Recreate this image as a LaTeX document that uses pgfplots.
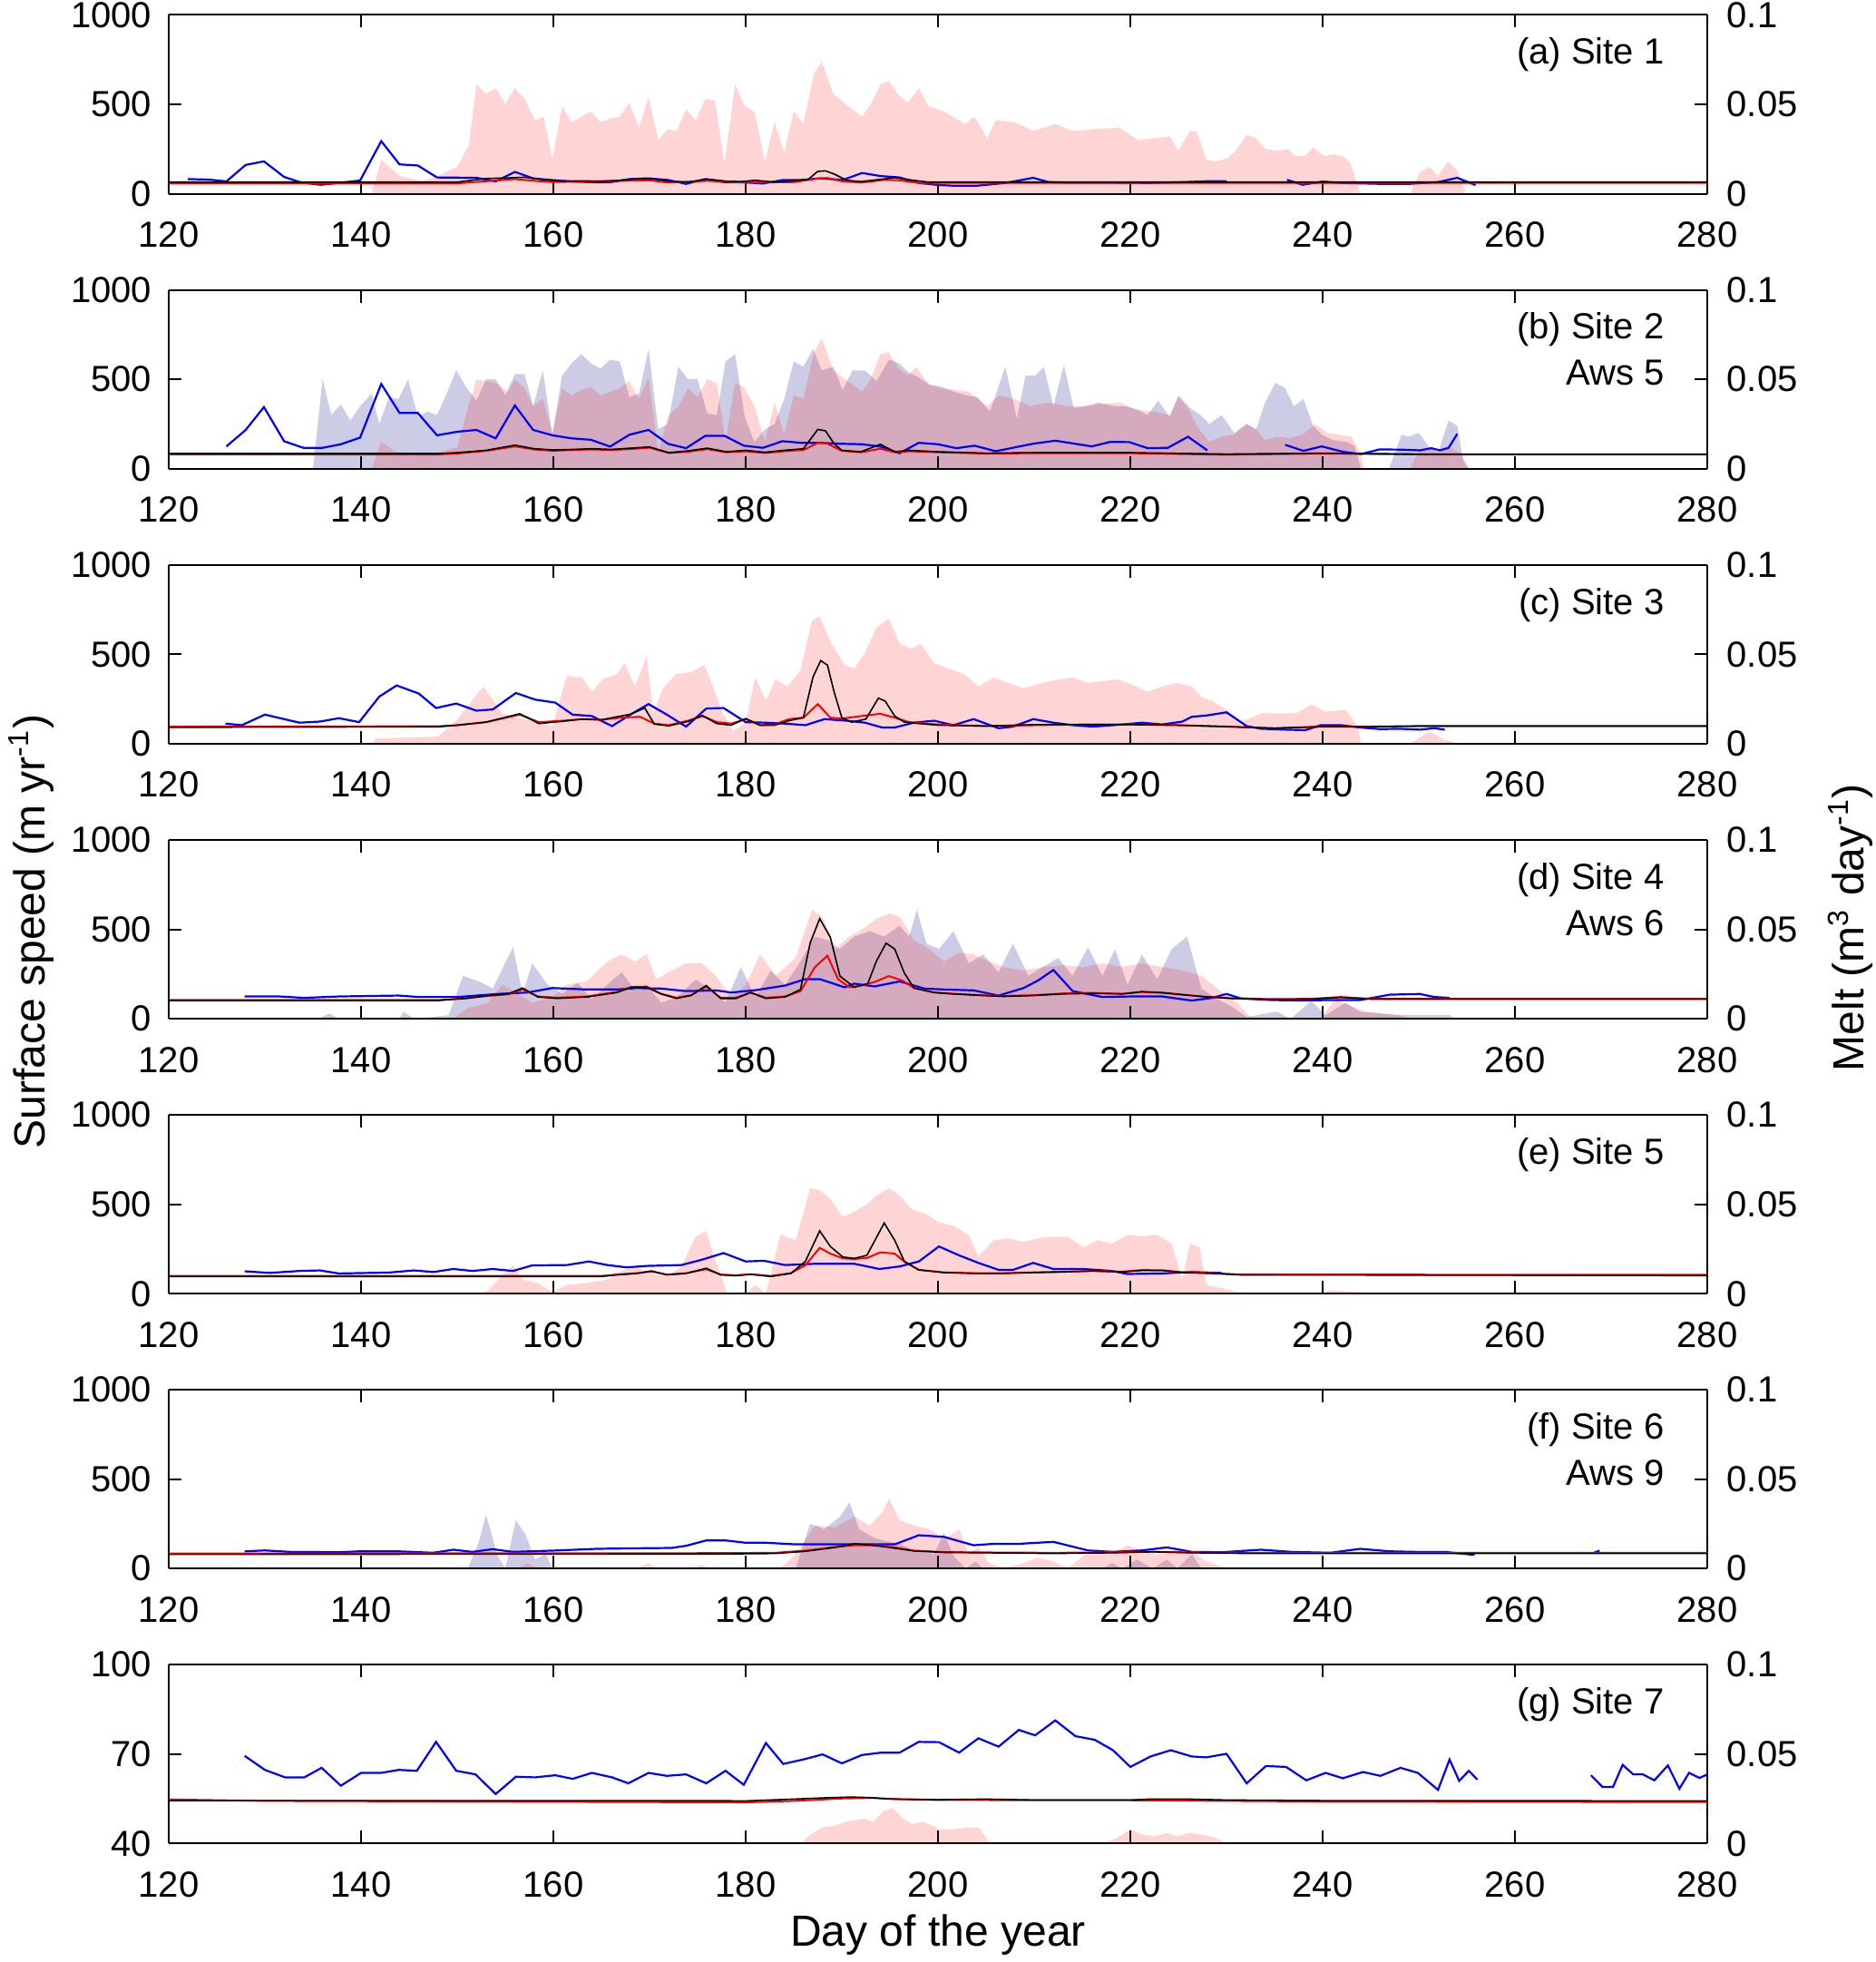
\documentclass[border=0pt]{standalone}
\usepackage{fontspec}
\setmainfont{Liberation Sans}
\usepackage{pgfplots}
\pgfplotsset{compat=1.18}
\definecolor{navy}{RGB}{0,0,128}
\tikzset{lab/.style={anchor=east, inner sep=0pt, font=\fontsize{10}{12}\selectfont}}
\pgfplotsset{
  common/.style={scale only axis, width=424pt, height=49.3pt, xmin=120, xmax=280, anchor=south west,
    tick align=inside, major tick length=3.5pt, axis line style={line width=0.5pt},
    tick style={black, line width=0.5pt}, ticklabel style={font=\fontsize{10}{12}\selectfont},
    /pgf/number format/assume math mode=true},
  meltax/.style={common, ymin=0, ymax=0.1, axis y line*=right, hide x axis,
    ytick={0,0.05,0.1}, yticklabels={0,0.05,0.1}, yticklabel style={xshift=1.9pt}},
  speedax/.style={common, axis y line*=left, xtick={120,140,...,280},
    xticklabels={120,140,160,180,200,220,240,260,280}, xticklabel style={yshift=-4.2pt},
    yticklabel style={xshift=-1.2pt}, unbounded coords=jump, ymin=0, ymax=1000,
    ytick={0,500,1000}, yticklabels={0,500,1000}},
  pinkf/.style={draw=none, fill=red, fill opacity=0.17},
  purpf/.style={draw=none, fill=navy, fill opacity=0.2},
  bl/.style={blue, line width=0.55pt},
  rl/.style={red, line width=0.5pt},
  kl/.style={black, line width=0.4pt},
}
\begin{document}
\begin{tikzpicture}[x=1pt,y=1pt]
\useasboundingbox (0,0) rectangle (516.75,540.75);
% ---------------- (a)
\begin{axis}[meltax, at={(46.5pt,487.35pt)}]
\addplot[pinkf] coordinates {(141.1,0)(142.1,0.019)(144.0,0.010)(146.4,0.007)(148.0,0.010)(150.0,0.015)(151.2,0.027)(152.0,0.061)(153.0,0.056)(154.0,0.059)(155.0,0.050)(156.0,0.059)(157.0,0.053)(158.1,0.041)(159.0,0.043)(159.9,0.019)(160.9,0.049)(161.9,0.040)(162.9,0.043)(163.9,0.046)(164.9,0.040)(165.9,0.042)(166.9,0.043)(167.9,0.051)(168.9,0.037)(169.9,0.054)(170.9,0.030)(171.9,0.036)(172.8,0.035)(173.8,0.047)(174.8,0.041)(175.8,0.053)(176.8,0.052)(177.8,0.017)(178.9,0.061)(179.9,0.049)(180.9,0.046)(182.0,0.018)(183.0,0.040)(184.0,0.023)(185.0,0.046)(186.0,0.039)(187.1,0.067)(187.9,0.074)(189.1,0.056)(190.4,0.050)(192.1,0.043)(193.0,0.050)(194.0,0.061)(194.9,0.063)(195.9,0.055)(196.9,0.051)(198.0,0.059)(199.0,0.049)(200.6,0.046)(202.8,0.039)(203.8,0.043)(205.1,0.031)(206.0,0.041)(208.0,0.040)(209.9,0.035)(212.2,0.039)(214.1,0.035)(216.0,0.036)(218.9,0.037)(220.8,0.030)(222.4,0.031)(224.1,0.032)(225.0,0.024)(226.2,0.035)(226.9,0.035)(227.9,0.019)(228.9,0.018)(230.2,0.020)(231.1,0.025)(232.1,0.033)(233.1,0.031)(234.0,0.025)(235.3,0.024)(236.3,0.025)(237.2,0.021)(238.2,0.021)(239.0,0.026)(240.1,0.021)(241.1,0.022)(242.1,0.021)(242.9,0.017)(243.9,0)(249.1,0)(250.1,0.012)(251.1,0.015)(252.0,0.010)(253.0,0.018)(254.0,0.013)(254.9,0)} \closedcycle;
\end{axis}
\begin{axis}[speedax, at={(46.5pt,487.35pt)}]
\addplot[bl] coordinates {(122.0,82)(124.2,79)(126.0,69)(128.0,161)(129.9,181)(132.0,94)(133.8,62)(135.8,50)(137.7,60)(139.9,74)(142.1,294)(144.0,164)(145.9,158)(147.9,91)(152.0,89)(154.0,69)(156.0,122)(157.9,86)(159.9,76)(161.9,69)(163.9,64)(165.9,64)(167.9,82)(169.9,86)(171.9,77)(173.8,55)(175.8,82)(177.8,64)(179.8,64)(181.8,57)(183.8,76)(185.8,77)(187.7,86)(190.1,77)(192.1,116)(194.0,99)(196.0,91)(198.0,60)(200.0,49)(201.5,45)(204.1,45)(207.0,60)(209.9,89)(211.5,65)(214,62)(218,62)(222,60)(226.2,66)(228,70)(230,70)(231,nan)(236.3,78)(237.9,50)(240,68)(242,60)(246,55)(249,55)(252,65)(254.0,89)(255.9,48)};
\addplot[rl] coordinates {(120,58)(150,58)(153,70)(156,82)(158,72)(160,65)(170,75)(172,62)(176,72)(180,62)(185,65)(187.5,85)(188.5,88)(190,70)(192,62)(194.5,78)(196,75)(198,60)(280,60)};
\addplot[kl] coordinates {(120,65)(150,65)(153,85)(155,88)(157,92)(159,78)(161,70)(163,72)(165,70)(167,75)(169,85)(170.5,82)(172,70)(174,65)(176,82)(178,70)(179.5,68)(181,75)(183,65)(185,72)(186.5,80)(187.5,125)(188.3,128)(189.2,110)(190.5,75)(192,68)(194,80)(195.5,90)(197,78)(199,65)(280,65)};
\node[lab] at (rel axis cs:0.9725,0.777) {(a) Site 1};
\end{axis}
% ---------------- (b)
\begin{axis}[meltax, at={(46.5pt,411.55pt)}]
\addplot[purpf] coordinates {(135.0,0)(136.0,0.050)(136.9,0.030)(137.9,0.036)(138.9,0.027)(139.9,0.035)(141.1,0.042)(141.9,0.025)(142.9,0.040)(143.9,0.039)(144.9,0.050)(145.9,0.029)(146.9,0.032)(147.9,0.030)(148.9,0.042)(149.9,0.055)(151.0,0.045)(152.0,0.038)(153.0,0.050)(154.0,0.050)(155.0,0.041)(156.0,0.053)(157.0,0.053)(157.9,0.035)(158.9,0.055)(159.9,0.019)(160.9,0.052)(161.9,0.059)(162.9,0.064)(163.9,0.059)(164.9,0.056)(165.9,0.061)(166.9,0.060)(167.9,0.040)(168.9,0.042)(169.9,0.067)(170.9,0.022)(171.9,0.025)(173.0,0.057)(174.0,0.050)(175.0,0.050)(176.0,0.031)(177.0,0.030)(177.9,0.060)(178.9,0.064)(179.9,0.029)(180.9,0.015)(182.0,0.022)(183.0,0.025)(184.0,0.039)(185.0,0.060)(186.0,0.057)(187.0,0.067)(187.9,0.055)(189.1,0.057)(190.1,0.044)(191.1,0.055)(192.4,0.055)(193.6,0.049)(194.9,0.061)(195.9,0.059)(196.9,0.054)(198.0,0.051)(199.1,0.047)(200.3,0.046)(201.7,0.043)(203.0,0.041)(204.1,0.040)(205.4,0.032)(207.0,0.057)(208.2,0.028)(209.1,0.052)(210.1,0.052)(211.0,0.057)(212.0,0.035)(213.1,0.058)(214.1,0.034)(215.4,0.035)(216.7,0.037)(218.3,0.035)(219.5,0.035)(220.8,0.033)(221.8,0.030)(222.9,0.038)(224.1,0.029)(225.0,0.041)(226.2,0.034)(227.3,0.030)(228.2,0.025)(229.5,0.030)(230.8,0.020)(232.1,0.025)(233.1,0.022)(234.0,0.037)(235.1,0.048)(236.1,0.045)(237.0,0.035)(238.0,0.039)(239.0,0.024)(239.9,0.019)(241.1,0.016)(242.4,0.015)(243.3,0.013)(244.0,0)(246.9,0)(248.2,0.019)(248.9,0.018)(250.0,0.020)(251.1,0.012)(252.0,0.009)(253.1,0.027)(254.0,0.024)(254.6,0.005)(255.2,0)} \closedcycle;
\addplot[pinkf] coordinates {(141.1,0)(142.1,0.015)(143.4,0.010)(145.4,0.007)(148,0.009)(150,0.012)(151,0.032)(152,0.050)(154,0.048)(155.3,0.043)(156,0.050)(157,0.045)(157.9,0.035)(158.9,0.039)(159.9,0.020)(160.9,0.045)(161.9,0.041)(162.9,0.044)(163.9,0.046)(164.9,0.041)(165.9,0.043)(166.9,0.045)(167.9,0.049)(168.9,0.039)(169.9,0.051)(170.9,0.009)(171.9,0.029)(173.0,0.035)(174.0,0.045)(175.0,0.040)(176.0,0.050)(177.0,0.048)(177.9,0.015)(178.9,0.048)(179.9,0.045)(180.9,0.035)(182.0,0.015)(183.0,0.037)(184.0,0.019)(185.0,0.041)(186.0,0.039)(187.1,0.065)(187.9,0.073)(189.1,0.055)(190.4,0.050)(192.1,0.043)(193.0,0.050)(194.0,0.064)(194.9,0.065)(195.9,0.056)(196.9,0.052)(197.7,0.057)(199.1,0.047)(200.3,0.045)(202.0,0.044)(203.2,0.043)(205.1,0.035)(206.4,0.041)(208.0,0.039)(209.6,0.035)(211.5,0.037)(213.4,0.035)(215.0,0.035)(216.7,0.036)(218.9,0.037)(220.5,0.033)(222.4,0.032)(224.1,0.030)(225.0,0.040)(226.0,0.034)(226.9,0.024)(228.2,0.015)(229.5,0.018)(230.8,0.019)(232.1,0.025)(233.1,0.022)(234.0,0.016)(235.3,0.018)(236.6,0.017)(237.9,0.019)(239.2,0.025)(240.5,0.020)(241.7,0.019)(243.0,0.018)(243.9,0.009)(244.3,0)(249.1,0)(250.0,0.010)(251.1,0.012)(252.0,0.010)(253.2,0.012)(254.3,0.009)(255.2,0)} \closedcycle;
\end{axis}
\begin{axis}[speedax, at={(46.5pt,411.55pt)}]
\addplot[bl] coordinates {(126.0,125)(128.0,217)(129.9,345)(132.0,154)(134.0,117)(136.0,117)(137.9,137)(139.9,174)(142.1,474)(144.0,312)(145.9,312)(147.9,187)(150.0,207)(152.0,217)(154.0,170)(156.0,354)(157.9,217)(159.9,187)(161.9,170)(163.9,162)(165.9,124)(167.9,190)(169.9,217)(171.9,140)(173.8,115)(175.8,184)(177.8,184)(179.8,129)(181.8,117)(183.8,154)(185.8,145)(187.7,145)(189.7,140)(192.1,137)(194.0,124)(196.0,87)(198.0,145)(200.0,137)(201.9,115)(203.8,129)(206.0,98)(209.9,140)(212.2,157)(216.0,125)(217.9,150)(219.9,149)(221.8,115)(223.9,117)(226.0,179)(228.0,103)(230,nan)(236.1,134)(238.0,100)(239.9,125)(242.1,95)(244.0,82)(245.9,108)(248.2,107)(250.1,103)(251.3,115)(252.2,103)(253.1,117)(254.0,195)};
\addplot[rl] coordinates {(120,80)(148,80)(150,85)(153,100)(156,125)(158,108)(160,100)(162,105)(164,108)(166,105)(168,110)(170,118)(172,88)(174,95)(176,110)(178,92)(180,98)(182,88)(184,98)(186,105)(187.5,145)(188.5,140)(190,100)(192,92)(194,112)(195.5,92)(197,98)(200,92)(205,85)(210,87)(220,87)(230,78)(240,85)(250,80)(280,80)};
\addplot[kl] coordinates {(120,85)(148,85)(150,90)(153,103)(156,132)(158,112)(160,105)(162,108)(164,112)(166,108)(168,115)(170,122)(172,90)(174,100)(176,115)(178,95)(180,103)(182,92)(184,103)(186,112)(187.5,220)(188.3,212)(189.2,140)(190,103)(192,95)(194,137)(195.5,95)(197,103)(200,95)(205,87)(210,90)(220,90)(230,82)(240,87)(250,82)(280,82)};
\node[lab] at (rel axis cs:0.9725,0.777) {(b) Site 2};
\node[lab] at (rel axis cs:0.9725,0.535) {Aws 5};
\end{axis}
% ---------------- (c)
\begin{axis}[meltax, at={(46.5pt,335.75pt)}]
\addplot[pinkf] coordinates {(141.3,0)(141.5,0.003)(148.0,0.004)(150.1,0.014)(152.7,0.032)(154.7,0.017)(156.8,0.014)(159.9,0.010)(161.4,0.038)(163.0,0.037)(164.0,0.029)(165.1,0.036)(166.6,0.039)(167.4,0.045)(168.5,0.032)(169.7,0.049)(170.4,0.017)(171.4,0.031)(172.8,0.039)(174.3,0.040)(175.7,0.044)(176.6,0.032)(177.6,0.017)(178.7,0.007)(180.0,0.012)(181.0,0.037)(182.1,0.024)(183.1,0.036)(184.3,0.032)(185.7,0.041)(186.9,0.069)(187.7,0.071)(188.8,0.057)(190.3,0.044)(191.3,0.042)(192.4,0.051)(193.6,0.065)(194.9,0.070)(196.0,0.056)(197.2,0.053)(198.2,0.056)(199.6,0.045)(201.1,0.042)(202.7,0.039)(204.2,0.032)(205.8,0.037)(207.3,0.034)(208.9,0.031)(210.9,0.034)(212.5,0.036)(214.0,0.037)(215.6,0.034)(217.1,0.035)(218.7,0.036)(220.2,0.033)(221.8,0.029)(223.3,0.032)(224.8,0.034)(226.4,0.032)(227.4,0.026)(228.5,0.024)(230.0,0.019)(231.5,0.012)(233.6,0.017)(235.2,0.017)(237.2,0.017)(238.8,0.022)(240.3,0.018)(242.4,0.019)(243.6,0.010)(244.0,0)(249.1,0)(251.1,0.007)(252.7,0.002)(254.2,0)} \closedcycle;
\end{axis}
\begin{axis}[speedax, at={(46.5pt,335.75pt)}]
\addplot[bl] coordinates {(125.9,113)(127.6,104)(130.0,163)(133.6,118)(135.7,124)(137.7,143)(139.8,121)(141.9,264)(143.7,326)(146.0,281)(147.8,200)(149.9,225)(152.0,185)(153.7,192)(156.1,284)(158.1,247)(160.2,230)(162.0,163)(164.0,155)(166.1,99)(168.1,166)(169.9,222)(171.8,163)(173.8,96)(175.9,197)(177.7,200)(180.0,121)(182.1,118)(184.1,113)(186.2,104)(188.2,138)(190.5,129)(192.4,118)(194.2,91)(195.5,91)(197.5,118)(199.6,129)(201.6,104)(203.7,138)(206.3,87)(207.8,96)(209.9,138)(212.0,118)(214.0,104)(216.1,96)(219.2,108)(221.2,118)(223.3,108)(225.4,124)(226.4,151)(227.9,158)(230.0,176)(232.1,99)(233.6,84)(236.2,79)(238.2,76)(239.8,104)(241.9,104)(243.9,91)(246.0,82)(248.0,84)(250.1,79)(251.6,87)(252.7,79)};
\addplot[rl] coordinates {(120,96)(148,98)(150,104)(153,121)(156.5,163)(158.5,121)(161,129)(163,138)(165,134)(167,146)(169,151)(170.5,113)(172,104)(174,129)(175.5,155)(177,121)(178.5,113)(180,138)(181.5,104)(183,108)(184.5,138)(186,146)(187.5,222)(188.8,146)(190,141)(192,155)(194,168)(195.5,146)(197,121)(200,108)(205,99)(210,104)(215,108)(220,108)(225,104)(230,96)(235,87)(240,96)(245,96)(250,99)(280,99)};
\addplot[kl] coordinates {(120,92)(148,95)(150,104)(153,121)(156.5,168)(158.5,113)(161,126)(163,138)(165,134)(166.5,150)(168,165)(169.5,200)(170.5,110)(172,100)(174,125)(175.5,158)(177,113)(178.5,104)(180,141)(181.5,104)(183,104)(184.5,129)(186,146)(187,373)(187.8,465)(188.5,440)(189.2,289)(190,146)(191,121)(192.5,138)(193.8,255)(194.5,239)(195.5,155)(196.5,121)(198,113)(200,104)(205,99)(210,107)(215,107)(220,107)(225,104)(230,96)(235,87)(240,96)(245,96)(250,99)(280,99)};
\node[lab] at (rel axis cs:0.9725,0.777) {(c) Site 3};
\end{axis}
% ---------------- (d)
\begin{axis}[meltax, at={(46.5pt,259.95pt)}]
\addplot[purpf] coordinates {(135.5,0)(136.7,0.003)(137.7,0)(144.0,0)(144.4,0.004)(145.5,0)(149.1,0.002)(150.6,0.024)(152.2,0.021)(153.7,0.017)(155.8,0.040)(156.8,0.014)(157.8,0.031)(159.4,0.019)(160.9,0.014)(162.5,0.020)(164.0,0.011)(165.6,0.019)(167.1,0.026)(168.5,0.016)(169.7,0.019)(171.2,0.009)(172.8,0.012)(174.8,0.022)(176.4,0.016)(177.9,0.009)(179.5,0.029)(181.0,0.012)(182.6,0.027)(184.1,0.019)(185.7,0.032)(187.2,0.046)(188.5,0.044)(189.8,0.039)(191.3,0.046)(192.9,0.049)(194.4,0.046)(196.0,0.052)(197.0,0.046)(197.8,0.061)(198.8,0.042)(200.1,0.039)(201.6,0.049)(203.2,0.031)(204.7,0.036)(206.3,0.026)(207.8,0.042)(209.4,0.024)(210.9,0.029)(212.5,0.034)(214.0,0.024)(215.6,0.040)(217.1,0.024)(218.4,0.039)(219.7,0.019)(221.2,0.036)(222.8,0.022)(224.3,0.039)(225.9,0.046)(227.4,0.017)(229.0,0.011)(230.5,0.007)(232.1,0.001)(235.2,0.004)(236.7,0)(238.8,0.010)(240.3,0.002)(242.4,0.009)(243.9,0.004)(246.0,0.003)(248.0,0.002)(253.2,0.002)(253.7,0)} \closedcycle;
\addplot[pinkf] coordinates {(149.6,0)(151.1,0.006)(153.2,0.009)(154.7,0.019)(156.3,0.014)(157.8,0.009)(159.9,0.012)(161.4,0.019)(163.5,0.021)(165.6,0.032)(167.1,0.036)(168.5,0.032)(169.7,0.036)(170.7,0.022)(172.3,0.027)(173.8,0.031)(175.4,0.031)(176.9,0.024)(178.5,0.012)(180.0,0.019)(181.5,0.036)(183.1,0.024)(185.2,0.034)(186.9,0.061)(188.0,0.057)(189.3,0.039)(190.8,0.046)(192.4,0.051)(193.6,0.056)(195.0,0.059)(196.0,0.057)(197.5,0.044)(199.1,0.039)(200.6,0.032)(202.2,0.037)(203.7,0.036)(205.3,0.032)(206.8,0.029)(208.9,0.027)(210.9,0.029)(213.0,0.030)(215.1,0.029)(217.1,0.031)(219.2,0.029)(221.2,0.031)(223.3,0.029)(225.4,0.027)(227.4,0.024)(229.0,0.017)(231.1,0.009)(232.6,0)(239.8,0)(241.3,0.011)(242.9,0.007)(244.4,0.004)(248.0,0.002)(249.1,0)} \closedcycle;
\end{axis}
\begin{axis}[speedax, at={(46.5pt,259.95pt)}]
\addplot[bl] coordinates {(127.9,125)(131.5,125)(134.1,117)(137.7,125)(143.9,130)(146.0,122)(150.1,122)(154.2,139)(157.3,147)(159.9,172)(163.5,164)(166.6,164)(168.7,172)(171.2,169)(173.8,155)(176.9,159)(178.5,147)(181.0,160)(184.1,186)(186.2,222)(187.7,222)(190.3,176)(191.3,197)(193.4,181)(196.0,209)(198.6,169)(200.6,164)(203.7,159)(206.3,130)(208.9,172)(210.4,214)(212.0,273)(214.0,155)(217.1,122)(220.2,125)(223.3,125)(226.4,102)(228.5,117)(230.0,139)(231.5,114)(234.6,105)(237.7,102)(240.8,105)(243.9,105)(247.0,135)(250.1,139)(251.6,122)(253.2,117)};
\addplot[rl] coordinates {(120,105)(148,105)(151,115)(153.2,128)(155.3,137)(156.8,164)(158.4,125)(160.4,118)(163.5,125)(166.6,150)(168.1,178)(169.7,180)(171.2,140)(172.8,118)(174.3,132)(175.9,180)(177.4,118)(179.0,118)(180.5,147)(182.1,118)(184.1,125)(185.7,155)(187.2,289)(188.5,353)(189.6,222)(190.8,176)(192.4,190)(193.4,206)(194.9,239)(196.3,214)(197.5,172)(199.6,147)(201.6,140)(204.7,132)(206.8,128)(209.9,132)(213.0,142)(216.1,145)(219.2,140)(221.2,150)(223.3,145)(225.4,135)(227.4,125)(230.5,115)(234.6,110)(238.8,112)(241.9,122)(245.0,112)(280,112)};
\addplot[kl] coordinates {(120,102)(148,102)(151,115)(153.2,130)(155.3,139)(156.8,172)(158.4,122)(160.4,114)(163.5,122)(166.6,147)(168.1,176)(169.7,176)(171.2,139)(172.8,114)(174.3,130)(175.9,186)(177.4,114)(179.0,114)(180.5,147)(182.1,114)(184.1,122)(185.7,164)(186.7,423)(187.7,560)(188.8,456)(189.8,239)(191.3,176)(192.7,197)(193.6,323)(194.6,423)(195.5,390)(196.5,256)(197.5,172)(199.6,147)(201.6,139)(204.7,130)(206.8,125)(209.9,130)(213.0,139)(216.1,142)(219.2,139)(221.2,152)(223.3,147)(225.4,135)(227.4,125)(230.5,114)(234.6,109)(238.8,110)(241.9,119)(245.0,110)(280,110)};
\node[lab] at (rel axis cs:0.9725,0.777) {(d) Site 4};
\node[lab] at (rel axis cs:0.9725,0.535) {Aws 6};
\end{axis}
% ---------------- (e)
\begin{axis}[meltax, at={(46.5pt,184.15pt)}]
\addplot[pinkf] coordinates {(152.2,0)(153.2,0.002)(154.7,0.010)(155.8,0.016)(156.8,0.008)(158.4,0.006)(159.9,0.001)(161.4,0.005)(163.5,0.006)(165.6,0.008)(167.1,0.013)(168.7,0.015)(170.2,0.011)(171.8,0.010)(173.3,0.015)(174.8,0.032)(175.9,0.035)(176.9,0.018)(178.1,0)(180.0,0)(181.0,0.005)(182.1,0)(183.6,0.033)(185.2,0.030)(186.7,0.059)(187.7,0.058)(188.8,0.053)(190.1,0.043)(191.3,0.046)(192.6,0.050)(193.6,0.055)(194.9,0.059)(196.0,0.055)(197.3,0.047)(198.6,0.045)(200.1,0.040)(201.6,0.038)(203.2,0.033)(204.2,0.021)(205.8,0.030)(207.3,0.031)(208.9,0.029)(210.4,0.031)(212.0,0.032)(213.5,0.032)(215.1,0.026)(216.6,0.030)(218.1,0.028)(219.7,0.033)(221.2,0.032)(222.8,0.033)(224.3,0.028)(225.4,0.008)(226.2,0.028)(227.2,0.026)(227.9,0.005)(230.5,0.002)(231.5,0)(239.8,0)(240.8,0.002)(245,0.0005)(246,0)} \closedcycle;
\end{axis}
\begin{axis}[speedax, at={(46.5pt,184.15pt)}]
\addplot[bl] coordinates {(127.9,126)(130.5,117)(133.6,128)(135.7,131)(137.7,114)(142.9,119)(145.5,131)(147.5,122)(149.6,139)(151.6,128)(153.7,139)(155.8,128)(157.8,159)(161.4,161)(163.7,181)(165.6,161)(167.6,148)(169.7,156)(173.3,161)(175.4,190)(177.7,228)(180.0,181)(181.9,185)(184.1,161)(187.2,168)(191.3,168)(193.9,139)(196.0,153)(198.0,181)(200.1,265)(202.2,215)(204.2,173)(206.3,134)(207.8,134)(209.9,173)(212.0,139)(215.1,139)(218.1,128)(219.7,111)(223.3,114)(226.4,122)(229.5,117)};
\addplot[rl] coordinates {(120,100)(165,100)(166.6,108)(168.7,116)(170.2,125)(171.8,108)(173.8,116)(175.9,138)(177.4,108)(179.0,104)(180.5,110)(182.6,100)(184.7,116)(186.2,160)(187.7,257)(188.8,225)(190.1,198)(191.3,195)(192.6,200)(194.0,232)(195.5,225)(196.5,180)(198.0,134)(200.6,120)(203.7,116)(206.8,116)(209.9,120)(213.0,124)(216.1,128)(219.2,124)(221.2,133)(223.3,132)(225.4,121)(228.5,116)(231.5,108)(280,106)};
\addplot[kl] coordinates {(120,97)(165,97)(166.6,106)(168.7,114)(170.2,128)(171.8,106)(173.8,114)(175.9,143)(177.4,106)(179.0,101)(180.5,109)(182.6,97)(184.7,114)(186.2,181)(187.7,352)(188.8,265)(190.1,206)(191.3,198)(192.6,215)(193.6,315)(194.4,396)(195.5,299)(196.5,181)(198.0,134)(200.6,119)(203.7,114)(206.8,114)(209.9,119)(213.0,122)(216.1,128)(219.2,122)(221.2,131)(223.3,131)(225.4,119)(228.5,114)(231.5,106)(280,102)};
\node[lab] at (rel axis cs:0.9725,0.777) {(e) Site 5};
\end{axis}
% ---------------- (f)
\begin{axis}[meltax, at={(46.5pt,108.45pt)}]
\addplot[purpf] coordinates {(151.1,0)(152.2,0.014)(153.0,0.030)(154.2,0.007)(155.0,0)(156.1,0.027)(157.1,0.019)(158.1,0.005)(159.2,0.008)(159.9,0)(185.2,0)(186.7,0.025)(188.2,0.022)(189.8,0.029)(190.8,0.037)(191.8,0.022)(193.4,0.017)(194.9,0.015)(196.0,0.014)(197.5,0.010)(199.6,0.008)(200.6,0.020)(201.6,0.007)(202.9,0)(203.9,0.004)(204.7,0)(217.1,0)(218.1,0.003)(219.2,0)(220.7,0.005)(222.3,0)(223.8,0.005)(224.9,0)(226.4,0.008)(227.4,0)} \closedcycle;
\addplot[pinkf] coordinates {(156.3,0)(157.3,0.003)(158.4,0)(168.7,0)(169.9,0.003)(170.7,0)(174.3,0)(175.4,0.002)(176.4,0)(183.6,0)(185.2,0.008)(187.2,0.024)(189.3,0.023)(191.3,0.029)(192.9,0.024)(194.3,0.032)(194.9,0.039)(196.0,0.027)(197.5,0.024)(199.1,0.022)(200.6,0.016)(202.2,0.022)(203.2,0.008)(204.2,0.012)(205.3,0.003)(206.8,0)(208.9,0.003)(210.4,0.006)(212.0,0.004)(213.5,0)(215.1,0.007)(216.6,0.011)(218.1,0.008)(219.7,0.013)(221.2,0.010)(222.8,0.008)(224.3,0.010)(226.4,0.009)(227.9,0.004)(230.0,0)} \closedcycle;
\end{axis}
\begin{axis}[speedax, at={(46.5pt,108.45pt)}]
\addplot[bl] coordinates {(127.9,96)(130.0,101)(132.6,93)(137.7,91)(139.8,96)(143.9,96)(147.5,88)(149.6,105)(151.6,93)(153.7,108)(155.8,93)(160.4,101)(164.5,110)(168.7,113)(172.3,115)(173.8,127)(175.9,157)(177.9,157)(180.0,144)(182.1,144)(185.2,135)(191.3,135)(195.5,135)(198.0,186)(200.6,177)(203.7,130)(205.8,138)(208.4,138)(212.0,149)(215.6,101)(218.1,93)(221.2,101)(223.8,118)(226.4,93)(229.5,91)(233.6,105)(236.7,93)(240.8,88)(243.9,110)(247.0,96)(249.6,93)(252.7,93)(255.8,76)(260,nan)(268.2,88)(268.8,100)};
\addplot[rl] coordinates {(120,84)(176.9,86)(183.1,88)(186.2,100)(189.3,120)(191.3,130)(193.5,130)(195.5,118)(197.5,100)(200.6,92)(204.7,90)(212.0,88)(218.1,90)(222.3,94)(226.4,90)(232.6,88)(280,88)};
\addplot[kl] coordinates {(120,79)(176.9,81)(183.1,84)(186.2,96)(189.3,118)(191.3,138)(192.9,132)(194.9,118)(197.5,98)(200.6,90)(204.7,88)(212.0,84)(218.1,88)(222.3,93)(226.4,88)(232.6,84)(280,84)};
\node[lab] at (rel axis cs:0.9725,0.777) {(f) Site 6};
\node[lab] at (rel axis cs:0.9725,0.535) {Aws 9};
\end{axis}
% ---------------- (g)
\begin{axis}[meltax, at={(46.5pt,32.65pt)}]
\addplot[pinkf] coordinates {(185.7,0)(186.7,0.005)(188.0,0.009)(189.3,0.010)(190.3,0.012)(191.3,0.013)(192.4,0.014)(193.2,0.012)(194.3,0.018)(195.3,0.020)(196.3,0.014)(197.3,0.011)(198.6,0.012)(200.1,0.008)(201.6,0.008)(203.2,0.009)(204.2,0.009)(205.3,0.001)(206.3,0)(217.1,0)(218.6,0.003)(220.0,0.008)(221.2,0.005)(222.6,0.004)(223.8,0.006)(224.9,0.004)(226.2,0.006)(227.5,0.005)(229.0,0.003)(230.0,0)} \closedcycle;
\end{axis}
\begin{axis}[speedax, at={(46.5pt,32.65pt)}, ymin=40, ymax=100, ytick={40,70,100}, yticklabels={40,70,100}]
\addplot[bl] coordinates {(127.9,69.4)(130.0,64.7)(132.1,62.2)(134.1,62.2)(135.9,65.4)(137.9,59.4)(140.0,63.7)(142.1,63.7)(143.9,64.7)(145.8,64.4)(147.8,74.1)(149.9,64.4)(151.9,63.2)(154.0,56.6)(156.1,62.4)(158.1,62.2)(160.2,62.9)(162.0,61.7)(164.0,63.7)(166.1,62.2)(167.8,60.2)(169.9,63.7)(171.8,62.7)(173.8,63.2)(175.9,60.2)(177.9,64.4)(179.8,59.7)(182.1,73.7)(183.9,66.7)(186.0,68.2)(188.0,69.9)(190.0,66.9)(192.1,69.7)(194.1,70.5)(196.0,70.5)(198.0,74.1)(200.1,74.0)(202.2,70.5)(204.2,75.3)(206.3,72.5)(208.4,78.1)(210.1,76.3)(212.2,81.3)(214.3,76.0)(216.3,74.8)(218.2,71.3)(220.0,65.7)(222.1,69.2)(224.2,71.3)(226.4,69.2)(227.9,68.9)(230.0,70.1)(232.1,60.2)(234.1,66.0)(236.2,65.7)(238.3,61.2)(240.3,63.7)(242.1,61.9)(244.2,64.0)(246.0,62.7)(248.1,65.4)(249.9,63.7)(252.0,58.0)(253.2,68.2)(254.2,61.0)(255.2,64.4)(256.1,61.4)(260,nan)(267.9,62.9)(269.1,59.0)(270.2,59.0)(271.2,66.4)(272.3,63.2)(273.3,63.2)(274.5,61.2)(275.9,66.2)(277.1,58.4)(278.1,63.7)(279.2,62.0)(280.0,63.2)};
\addplot[rl] coordinates {(120,54.8)(130,54.3)(150,54.1)(170,53.9)(180,53.8)(185,54.3)(190,55.1)(193,55.3)(196,54.9)(200,54.6)(220,54.5)(240,54.1)(280,53.9)};
\addplot[kl] coordinates {(120,54.4)(175,54.4)(180,54.3)(185,54.9)(188,55.3)(191,55.6)(193,55.4)(195,54.9)(200,54.7)(205,54.9)(210,54.6)(215,54.6)(220,54.6)(222,54.9)(226,54.9)(230,54.6)(240,54.4)(280,54.3)};
\node[lab] at (rel axis cs:0.9725,0.777) {(g) Site 7};
\end{axis}
% ---------------- labels
\node[rotate=90, font=\fontsize{12}{14}\selectfont] at (8.6,284.0) {Surface speed (m yr\textsuperscript{-1})};
\node[rotate=90, font=\fontsize{12}{14}\selectfont] at (509.9,285.1) {Melt (m\textsuperscript{3} day\textsuperscript{-1})};
\node[font=\fontsize{12}{14}\selectfont] at (258.5,7.45) {Day of the year};
\end{tikzpicture}
\end{document}
